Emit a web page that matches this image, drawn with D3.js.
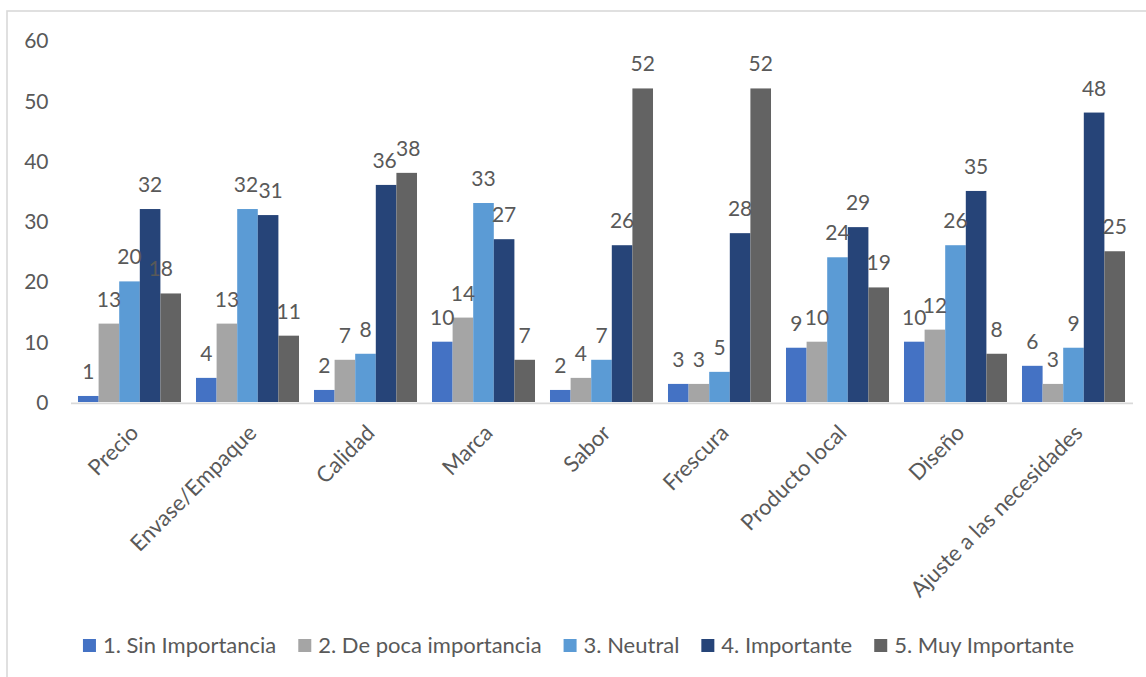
<!DOCTYPE html>
<html>
<head>
<meta charset="utf-8">
<script src="https://cdn.jsdelivr.net/npm/d3@7"></script>
<style>
  html, body { margin: 0; padding: 0; background: #fff; }
  svg { display: block; }
  text { font-family: Lato, "Open Sans", sans-serif; fill: #595959; }
</style>
</head>
<body>
<svg id="chart" width="1146" height="677"></svg>
<script>
const categories = ["Precio", "Envase/Empaque", "Calidad", "Marca", "Sabor", "Frescura", "Producto local", "Diseño", "Ajuste a las necesidades"];
const seriesNames = ["1. Sin Importancia", "2. De poca importancia", "3. Neutral", "4. Importante", "5. Muy Importante"];
const sinImportancia    = [1, 4, 2, 10, 2, 3, 9, 10, 6];
const dePocaImportancia = [13, 13, 7, 14, 4, 3, 10, 12, 3];
const neutral           = [20, 32, 8, 33, 7, 5, 24, 26, 9];
const importante        = [32, 31, 36, 27, 26, 28, 29, 35, 48];
const muyImportante     = [18, 11, 38, 7, 52, 52, 19, 8, 25];
const yTicks = [0, 10, 20, 30, 40, 50, 60];

const seriesValues = [sinImportancia, dePocaImportancia, neutral, importante, muyImportante];
const colors = ["#4472C4", "#A5A5A5", "#5B9BD5", "#264478", "#636363"];

const svg = d3.select("#chart");
const W = 1146, H = 677;
const numSize = 21;
const textSize = 22;

// chart border
svg.append("rect")
  .attr("x", 7).attr("y", 11)
  .attr("width", W + 20).attr("height", H + 20)
  .attr("fill", "#fff").attr("stroke", "#d9d9d9").attr("stroke-width", 1.6);

const plotLeft = 70.5, plotRight = 1132.5, plotTop = 40.2, plotBottom = 402;

const x0 = d3.scaleBand()
  .domain(categories)
  .range([plotLeft, plotRight])
  .paddingInner(0.127)
  .paddingOuter(0.0635);

const x1 = d3.scaleBand()
  .domain(seriesNames)
  .range([0, x0.bandwidth()]);

const y = d3.scaleLinear().domain([0, 60]).range([plotBottom, plotTop]);

// y axis labels
const yAxis = d3.axisLeft(y).tickValues(yTicks).tickSize(0).tickPadding(0);
const yG = svg.append("g").attr("transform", "translate(48.5,0)").call(yAxis);
yG.select(".domain").remove();
yG.selectAll("text")
  .attr("font-size", numSize)
  .attr("font-family", "Lato, 'Open Sans', sans-serif")
  .attr("fill", "#595959")
  .attr("dy", "0.36em")
  .attr("x", 0);

// bars
const rows = [];
categories.forEach((c, i) => {
  seriesNames.forEach((s, j) => {
    rows.push({ cat: c, series: s, j: j, value: seriesValues[j][i] });
  });
});

const barG = svg.append("g");
barG.selectAll("rect")
  .data(rows)
  .join("rect")
  .attr("x", d => x0(d.cat) + x1(d.series))
  .attr("y", d => y(d.value))
  .attr("width", x1.bandwidth())
  .attr("height", d => y(0) - y(d.value))
  .attr("fill", d => colors[d.j]);

// x axis
const xAxis = d3.axisBottom(x0).tickSize(0).tickSizeOuter(0).tickPadding(0);
const xG = svg.append("g").attr("transform", `translate(0,${plotBottom + 0.8})`).call(xAxis);
xG.select(".domain").attr("stroke", "#d9d9d9").attr("stroke-width", 1.8);
xG.selectAll(".tick text")
  .attr("font-size", textSize)
  .attr("font-family", "Lato, 'Open Sans', sans-serif")
  .attr("fill", "#595959")
  .attr("text-anchor", "end")
  .attr("dy", "0.35em")
  .attr("transform", "translate(5,26) rotate(-45)");

// data labels (small nudges where neighbouring labels collide, as in the reference)
const labelNudge = {
  "Precio|5. Muy Importante": -10,
  "Envase/Empaque|3. Neutral": -1.5,
  "Envase/Empaque|4. Importante": 2.5,
  "Calidad|4. Importante": -1.5,
  "Calidad|5. Muy Importante": 1.5
};
svg.append("g").selectAll("text")
  .data(rows)
  .join("text")
  .attr("x", d => x0(d.cat) + x1(d.series) + x1.bandwidth() / 2 + (labelNudge[d.cat + "|" + d.series] || 0))
  .attr("y", d => y(d.value) - 17)
  .attr("text-anchor", "middle")
  .attr("font-size", numSize)
  .text(d => d3.format("d")(d.value));

// legend
const legendG = svg.append("g").attr("transform", "translate(0,645.5)");
const items = legendG.selectAll("g").data(seriesNames).join("g");
items.append("rect")
  .attr("width", 13).attr("height", 13)
  .attr("y", -6.5)
  .attr("fill", (d, i) => colors[i]);
items.append("text")
  .attr("x", 20)
  .attr("dy", "0.36em")
  .attr("font-size", textSize)
  .text(d => d);
let widths = [];
items.each(function() { widths.push(20 + d3.select(this).select("text").node().getComputedTextLength()); });
const gap = 22;
const total = d3.sum(widths) + gap * (widths.length - 1);
let cx = 578.5 - total / 2;
items.attr("transform", (d, i) => {
  const t = `translate(${cx},0)`;
  cx += widths[i] + gap;
  return t;
});
</script>
</body>
</html>
